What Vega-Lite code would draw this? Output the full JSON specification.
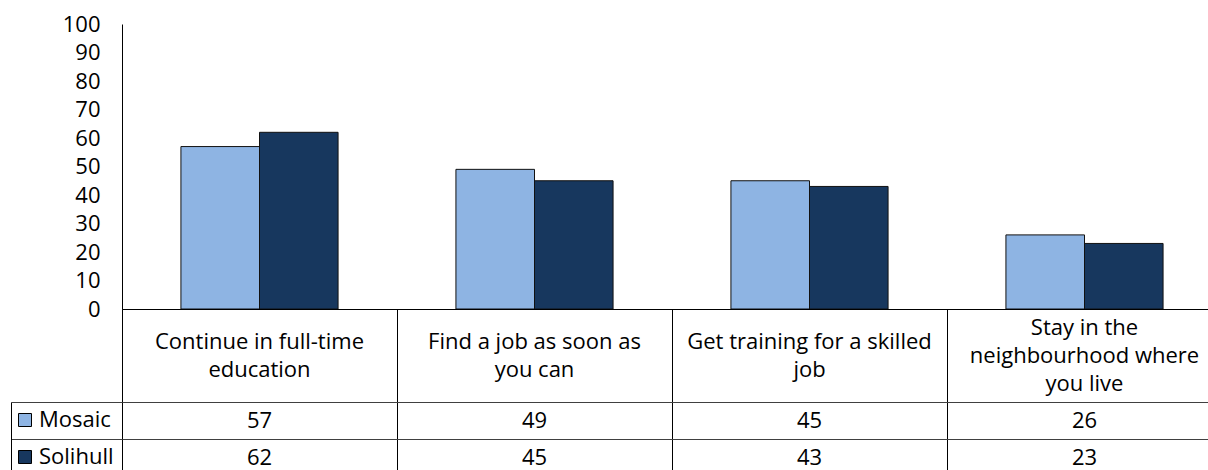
{
  "$schema": "https://vega.github.io/schema/vega-lite/v6.json",
  "background": "white",
  "padding": {"left": 10, "top": 13, "right": 0, "bottom": 0},
  "bounds": "flush",
  "spacing": 0,
  "config": {
    "font": "Open Sans",
    "view": {"stroke": null},
    "text": {"font": "Open Sans"},
    "axis": {"labelFont": "Open Sans"},
    "legend": {"labelFont": "Open Sans"}
  },
  "datasets": {
    "vals": [
      {"category": "Continue in full-time education", "series": "Mosaic", "value": 57},
      {"category": "Continue in full-time education", "series": "Solihull", "value": 62},
      {"category": "Find a job as soon as you can", "series": "Mosaic", "value": 49},
      {"category": "Find a job as soon as you can", "series": "Solihull", "value": 45},
      {"category": "Get training for a skilled job", "series": "Mosaic", "value": 45},
      {"category": "Get training for a skilled job", "series": "Solihull", "value": 43},
      {"category": "Stay in the neighbourhood where you live", "series": "Mosaic", "value": 26},
      {"category": "Stay in the neighbourhood where you live", "series": "Solihull", "value": 23}
    ],
    "cats": [
      {"category": "Continue in full-time education", "label": "Continue in full-time\neducation"},
      {"category": "Find a job as soon as you can", "label": "Find a job as soon as\nyou can"},
      {"category": "Get training for a skilled job", "label": "Get training for a skilled\njob"},
      {"category": "Stay in the neighbourhood where you live", "label": "Stay in the\nneighbourhood where\nyou live"}
    ]
  },
  "resolve": {"legend": {"color": "independent"}},
  "vconcat": [
    {
      "width": 1100,
      "height": 285,
      "data": {"name": "vals"},
      "mark": {"type": "bar", "stroke": "#111111", "strokeWidth": 1},
      "encoding": {
        "x": {"field": "category", "type": "nominal", "sort": null, "axis": null,
              "scale": {"paddingInner": 0, "paddingOuter": 0}},
        "xOffset": {"field": "series", "type": "nominal", "sort": null,
                    "scale": {"paddingInner": 0, "paddingOuter": 0.75}},
        "y": {"field": "value", "type": "quantitative",
              "scale": {"domain": [0, 100], "nice": false},
              "axis": {"values": [0, 10, 20, 30, 40, 50, 60, 70, 80, 90, 100], "ticks": false, "grid": false,
                       "domain": true, "domainColor": "#000000", "labelFontSize": 22, "labelColor": "#000000",
                       "labelPadding": 22, "title": null}},
        "color": {"field": "series", "type": "nominal", "sort": null,
                  "scale": {"range": ["#8EB4E3", "#17375E"]},
                  "legend": {"orient": "none", "legendX": -108, "legendY": 385, "title": null,
                             "symbolType": "square", "symbolSize": 169, "symbolStrokeColor": "#000000",
                             "symbolStrokeWidth": 1, "labelFontSize": 22, "labelColor": "#000000",
                             "labelOffset": 3, "rowPadding": 15, "padding": 0}}
      }
    },
    {
      "width": 1100,
      "height": 93,
      "data": {"name": "cats"},
      "view": {"stroke": "#000000"},
      "encoding": {
        "x": {"field": "category", "type": "nominal", "sort": null,
              "scale": {"paddingInner": 0, "paddingOuter": 0},
              "axis": {"grid": true, "tickBand": "extent", "gridColor": "#000000", "gridOpacity": 1,
                       "labels": false, "ticks": false, "domain": false, "title": null}},
        "text": {"field": "label"}
      },
      "layer": [
        {
          "transform": [{"filter": "length(split(datum.label, '\\n')) == 2"}],
          "mark": {"type": "text", "fontSize": 22, "lineBreak": "\n", "lineHeight": 28, "baseline": "middle", "dy": -14, "color": "#000000"}
        },
        {
          "transform": [{"filter": "length(split(datum.label, '\\n')) == 3"}],
          "mark": {"type": "text", "fontSize": 22, "lineBreak": "\n", "lineHeight": 28, "baseline": "middle", "dy": -28, "color": "#000000"}
        }
      ]
    },
    {
      "width": 1100,
      "height": 74,
      "data": {"name": "vals"},
      "view": {"stroke": "#000000"},
      "mark": {"type": "text", "fontSize": 22, "baseline": "middle", "color": "#000000"},
      "encoding": {
        "x": {"field": "category", "type": "nominal", "sort": null,
              "scale": {"paddingInner": 0, "paddingOuter": 0},
              "axis": {"grid": true, "tickBand": "extent", "gridColor": "#000000", "gridOpacity": 1,
                       "labels": false, "ticks": false, "domain": false, "title": null}},
        "y": {"field": "series", "type": "nominal", "sort": null,
              "scale": {"paddingInner": 0, "paddingOuter": 0},
              "axis": {"offset": 111, "tickSize": -111, "tickBand": "extent", "grid": true,
                       "gridColor": "#404040", "gridOpacity": 1, "labels": false, "domain": true,
                       "domainColor": "#000000", "tickColor": "#404040", "title": null}},
        "text": {"field": "value"}
      }
    }
  ]
}
